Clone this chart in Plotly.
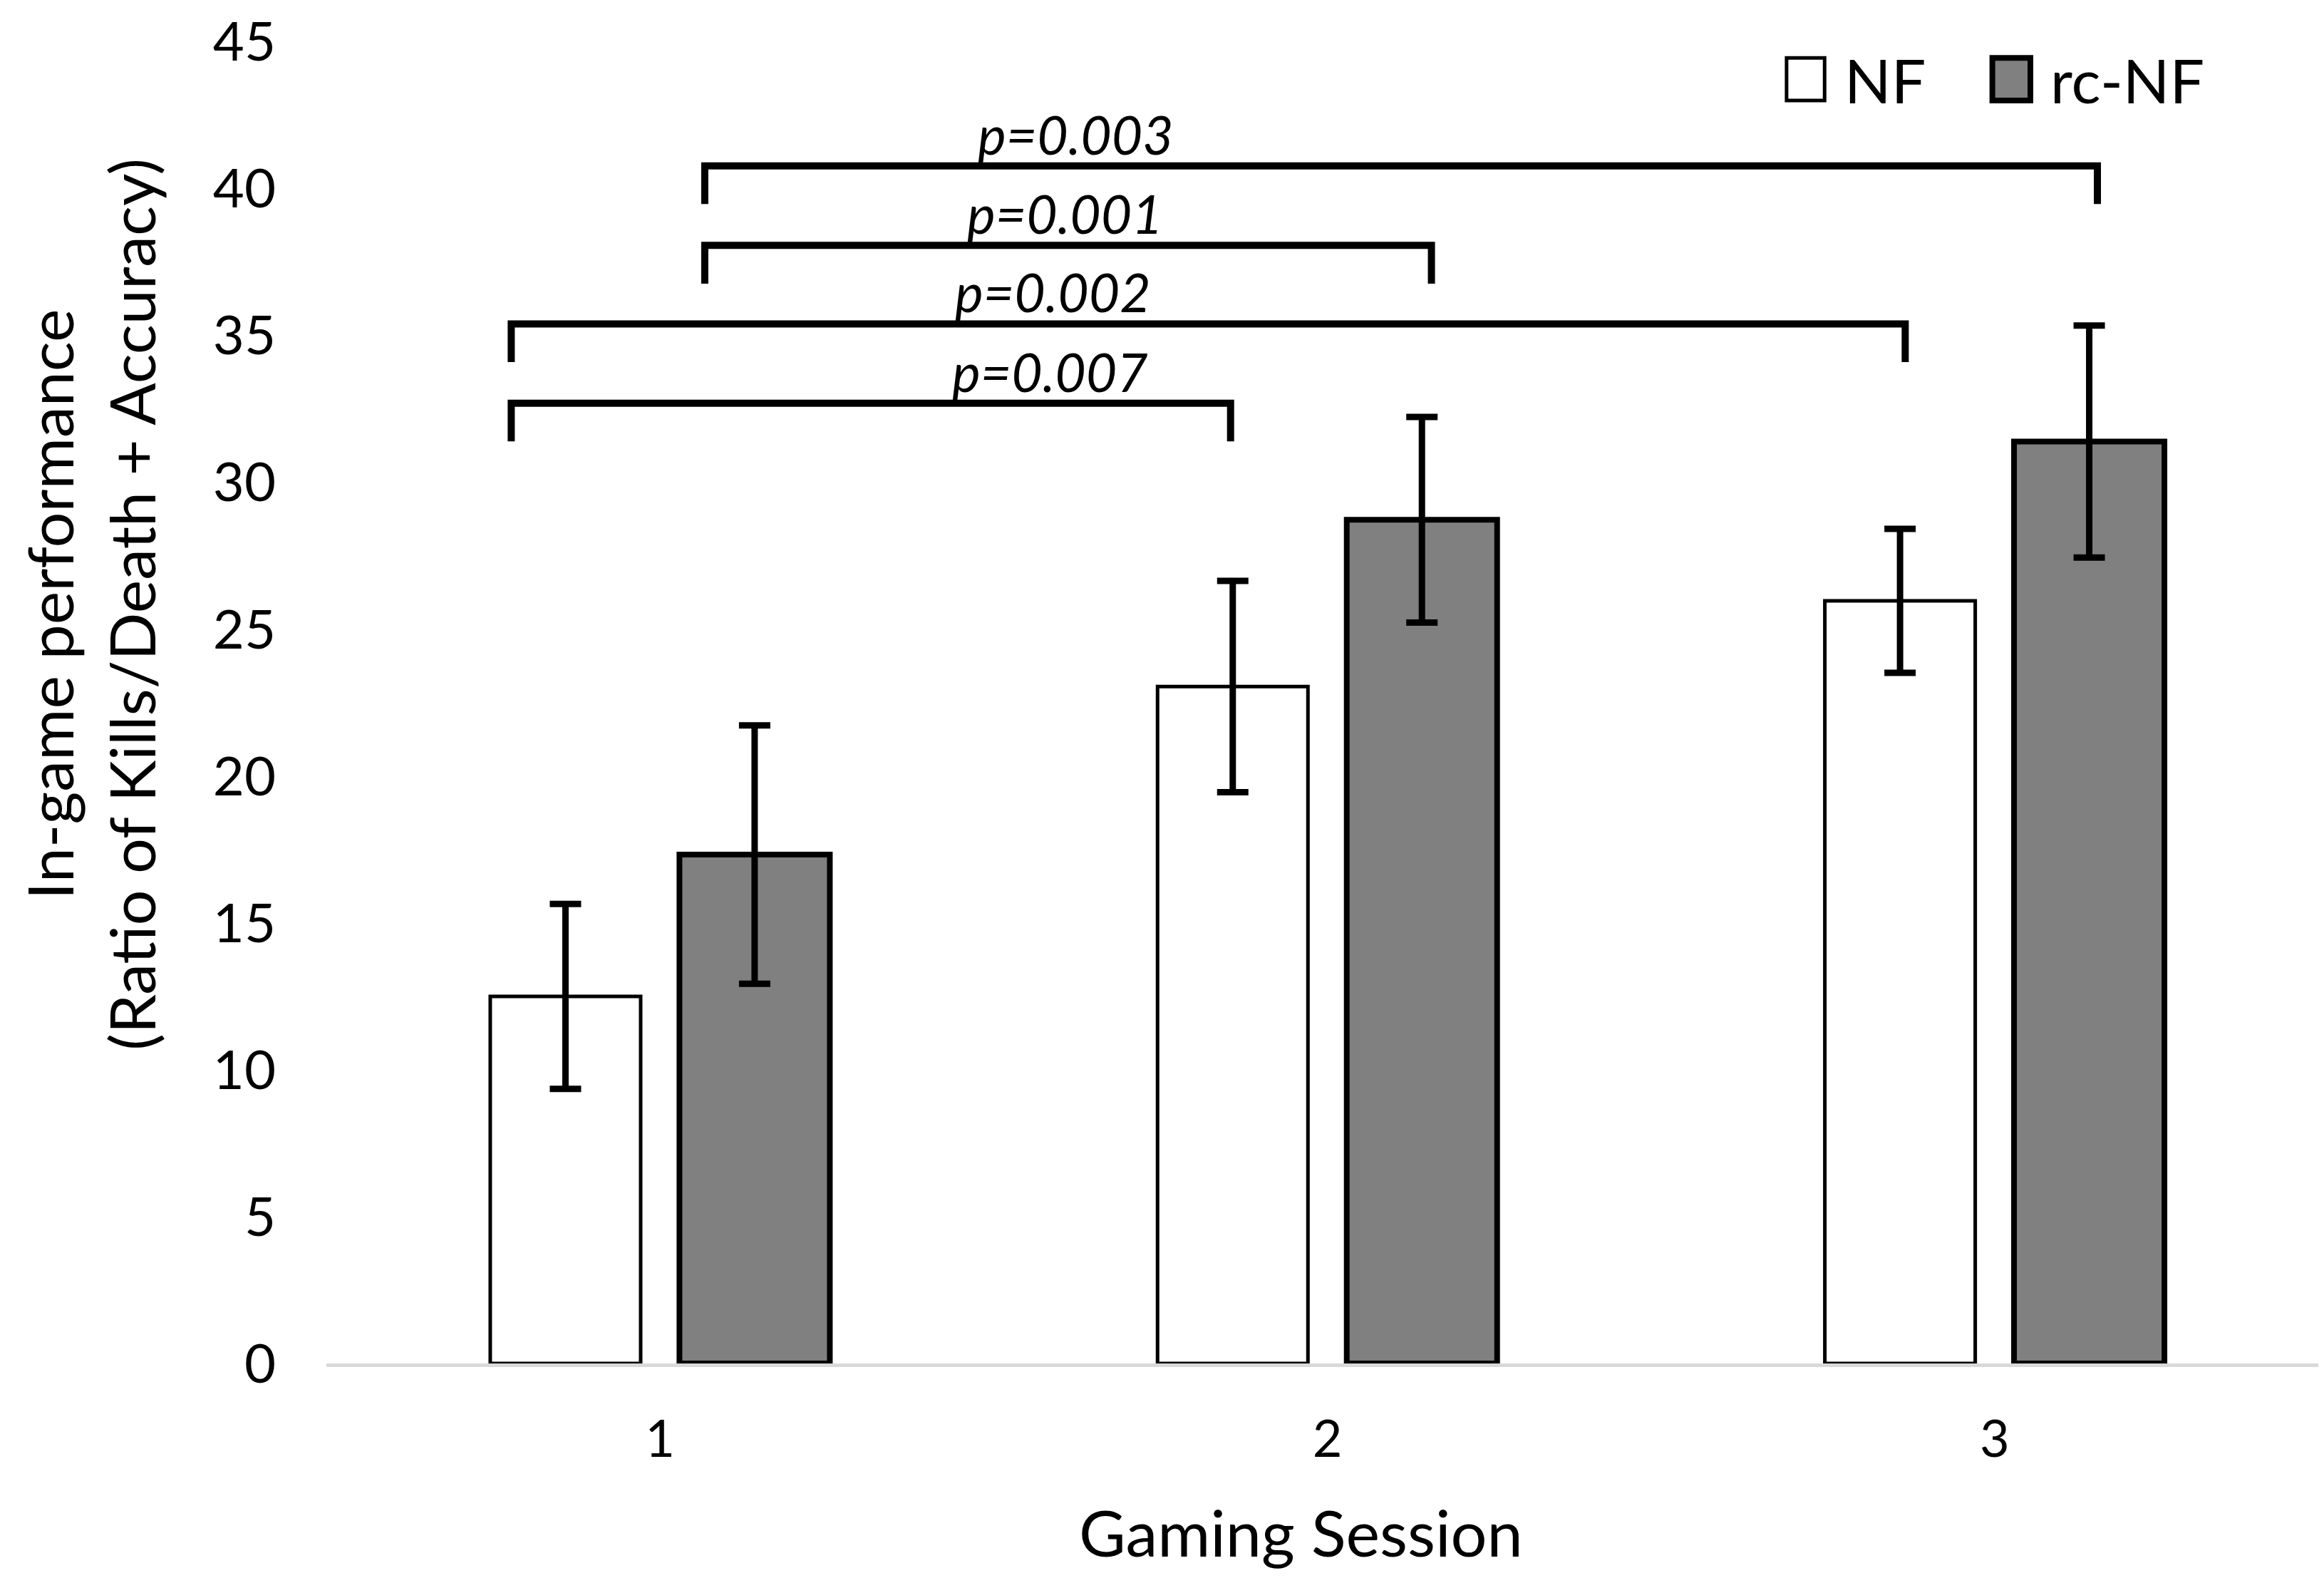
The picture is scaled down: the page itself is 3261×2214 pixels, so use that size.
import plotly.graph_objects as go

# data
sessions = [1, 2, 3]
nf_mean = [12.5, 23.05, 25.97]
nf_err = [3.15, 3.6, 2.45]
rcnf_mean = [17.33, 28.73, 31.39]
rcnf_err = [4.4, 3.5, 3.95]
y_ticks = [0, 5, 10, 15, 20, 25, 30, 35, 40, 45]

series_names = ["NF", "rc-NF"]
series_fill = ["white", "#808080"]
series_edge = [5, 8]

# significance brackets (x in session units)
br_x0 = [0.777, 0.777, 1.067, 1.067]
br_x1 = [1.855, 2.866, 2.156, 3.154]
br_y = [32.7, 35.4, 38.07, 40.78]
br_label = ["p=0.007", "p=0.002", "p=0.001", "p=0.003"]
br_label_x = [1.585, 1.589, 1.607, 1.623]
br_drop = 1.3

FONT = "Lato, Open Sans, sans-serif"

fig = go.Figure()
for name, means, errs, fill, lw in zip(series_names, [nf_mean, rcnf_mean], [nf_err, rcnf_err],
                                        series_fill, series_edge):
    fig.add_trace(go.Bar(
        x=sessions, y=means, name=name,
        marker=dict(color=fill, line=dict(color="black", width=lw)),
        error_y=dict(type="data", array=errs, color="black", thickness=9, width=22),
        showlegend=False,
    ))

for x0, x1, y, lab, lx in zip(br_x0, br_x1, br_y, br_label, br_label_x):
    fig.add_shape(type="path",
                  path=f"M {x0} {y - br_drop} L {x0} {y} L {x1} {y} L {x1} {y - br_drop}",
                  line=dict(color="black", width=10), xref="x", yref="y")
    fig.add_annotation(x=lx, y=y, text=f"<i>{lab}</i>", showarrow=False,
                       xanchor="center", yanchor="bottom", yshift=-2,
                       font=dict(family=FONT, size=75, color="black"))

# hand-drawn legend (plotly legend symbols are too small)
leg_box_x = [0.7294, 0.8322]
leg_box_w = 0.019
leg_text_x = [0.7576, 0.8604]
for name, fill, lw, bx, tx in zip(series_names, series_fill, series_edge, leg_box_x, leg_text_x):
    fig.add_shape(type="rect", xref="paper", yref="paper",
                  x0=bx, x1=bx + leg_box_w, y0=0.9553, y1=0.9874,
                  fillcolor=fill, line=dict(color="black", width=lw))
    fig.add_annotation(xref="paper", yref="paper", x=tx, y=0.9713, text=name,
                       showarrow=False, xanchor="left", yanchor="middle",
                       font=dict(family=FONT, size=86, color="black"))

fig.add_annotation(xref="paper", yref="paper", x=-0.118, y=0.574,
                   text="In-game performance<br>(Ratio of Kills/Death + Accuracy)",
                   textangle=-90, showarrow=False, xanchor="center", yanchor="middle",
                   font=dict(family=FONT, size=88, color="black"))
fig.add_annotation(xref="paper", yref="paper", x=0.487, y=-0.127, text="Gaming Session",
                   showarrow=False, xanchor="center", yanchor="middle",
                   font=dict(family=FONT, size=90, color="black"))

fig.update_layout(
    width=3261, height=2214,
    margin=dict(l=450, r=2, t=37, b=309),
    paper_bgcolor="white", plot_bgcolor="white",
    barmode="group", bargap=0.433, bargroupgap=0.205,
    font=dict(family=FONT, color="black"),
)
fig.update_xaxes(range=[0.5, 3.5], tickvals=sessions, ticktext=[str(s) for s in sessions],
                 showgrid=False, zeroline=False, showline=True, linecolor="#d9d9d9", linewidth=5,
                 ticks="", ticklabelstandoff=40, tickfont=dict(family=FONT, size=72))
fig.update_yaxes(range=[0, 45.02], tickvals=y_ticks, showgrid=False, zeroline=False,
                 showline=False, ticks="", ticklabelstandoff=70, ticklabeloverflow="allow",
                 tickfont=dict(family=FONT, size=76))

fig.write_html("out.html")
